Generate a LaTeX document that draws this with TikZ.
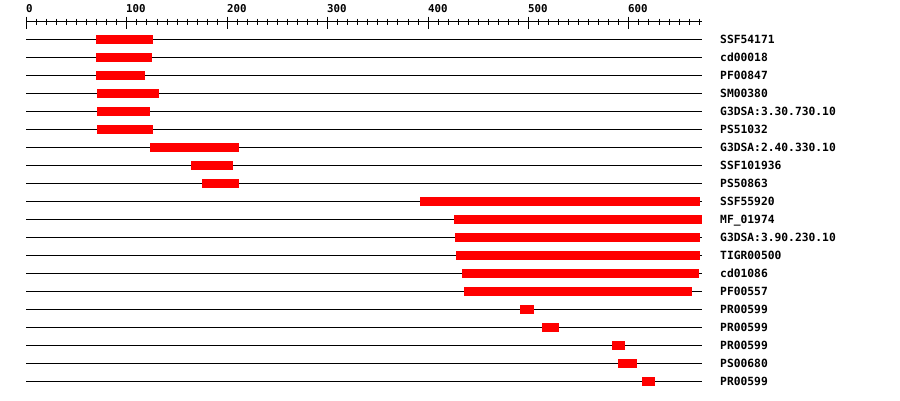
\documentclass[tikz,border=0pt]{standalone}
\usepackage{fontspec}
\newfontfamily\monofam{DejaVu Sans Mono}
\begin{document}
\begin{tikzpicture}[x=1pt,y=-1pt,
  trackline/.style={line width=1pt,black},
  featbar/.style={fill={rgb,255:red,255;green,0;blue,0},draw=none},
  featlabel/.style={anchor=base west,inner sep=0pt,font=\monofam\bfseries\fontsize{11.3}{12}\selectfont},
  ticklabel/.style={anchor=base west,inner sep=0pt,font=\monofam\bfseries\fontsize{10.8}{12}\selectfont},
  axisline/.style={line width=1pt,black}]
\useasboundingbox (0,0) rectangle (900,400);
% axis
\coordinate (axL) at (26,21.5);
\coordinate (axR) at (702,21.5);
\draw[axisline] (axL) -- (axR);
\foreach \v in {0,10,...,670}{
  \pgfmathsetmacro{\xx}{floor(26.5+1.004*\v)+0.5}
  \draw[axisline] (\xx,18.7) -- (\xx,24.5);
}
\foreach \v in {0,100,...,600}{
  \pgfmathsetmacro{\xx}{floor(26.5+1.004*\v)+0.5}
  \draw[axisline] (\xx,16.7) -- (\xx,28.5);
  \node[ticklabel] (t\v) at (\xx-0.5,12) {\v};
}
% rows
\foreach \nm/\xa/\xb [count=\i from 0] in {
  SSF54171/96/153,
  cd00018/96/152,
  PF00847/96/145,
  SM00380/97/159,
  G3DSA:3.30.730.10/97/150,
  PS51032/97/153,
  G3DSA:2.40.330.10/150/239,
  SSF101936/191/233,
  PS50863/202/239,
  SSF55920/420/700,
  MF\_01974/454/702,
  G3DSA:3.90.230.10/455/700,
  TIGR00500/456/700,
  cd01086/462/699,
  PF00557/464/692,
  PR00599/520/534,
  PR00599/542/559,
  PR00599/612/625,
  PS00680/618/637,
  PR00599/642/655}{
  \pgfmathsetmacro{\yy}{39.5+18*\i}
  \coordinate (s\i) at (26,\yy);
  \coordinate (e\i) at (702,\yy);
  \draw[trackline] (s\i) -- (e\i);
  \fill[featbar] (\xa,\yy-4.5) rectangle (\xb,\yy+4.5);
  \node[featlabel] (l\i) at (720,\yy+4.2) {\nm};
}
\end{tikzpicture}
\end{document}
